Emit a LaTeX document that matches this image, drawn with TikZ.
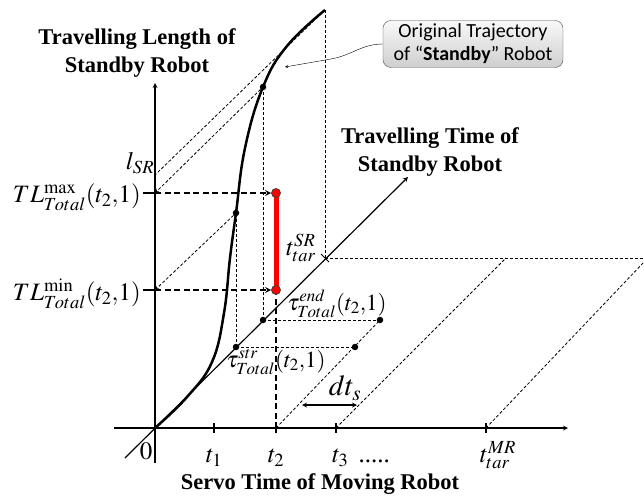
\documentclass[tikz,border=0pt]{standalone}
\usepackage{mathptmx}
\usepackage{fontspec}
\setmainfont{Liberation Serif}
\newfontfamily\calloutfont{Carlito}
\usetikzlibrary{arrows, positioning}
\tikzstyle{axis} = [line width=1.2pt, ->, >=stealth]
\tikzstyle{curve} = [line width=2.5pt]
\tikzstyle{guide} = [line width=0.8pt, dash pattern=on 3pt off 2pt]
\tikzstyle{proj} = [line width=1.6pt, dash pattern=on 6pt off 3.5pt]
\tikzstyle{dot} = [circle, fill=black, inner sep=0pt, minimum size=6.5pt]
\tikzstyle{reddot} = [circle, draw=black!75, line width=0.8pt, fill=red, inner sep=0pt, minimum size=9pt]
\tikzstyle{callout} = [rectangle, rounded corners=8pt, draw=gray!60!black, top color=gray!5, bottom color=gray!38, minimum width=180pt, minimum height=47pt, align=center, font=\calloutfont\fontsize{20}{23}\selectfont]
\tikzstyle{title} = [align=center, font=\bfseries\fontsize{22.5}{28}\selectfont]
\tikzstyle{mathlbl} = [inner sep=1pt, font=\fontsize{25}{28}\selectfont]
\tikzstyle{taulbl} = [inner sep=1pt, font=\fontsize{23}{26}\selectfont]

\begin{document}
\begin{tikzpicture}[x=1pt, y=1pt, >=stealth]
            \useasboundingbox (-155,-71) rectangle (489,428);
            % axes
            \coordinate (O) at (0,0);
            \coordinate (ybot) at (0,-35);
            \coordinate (ytop) at (0,345);
            \coordinate (xleft) at (-41,0);
            \coordinate (xright) at (413,0);
            \coordinate (dbot) at (-30,-30);
            \coordinate (dtop) at (253,251);
            \foreach \x/\n in {59/t1, 121/t2, 181/t3, 331/tmr}
                \coordinate (\n) at (\x,0);
            % key points
            \coordinate (tmax) at (0,235);
            \coordinate (tmin) at (0,138);
            \coordinate (lsrpt) at (0,253);
            \coordinate (tsr) at (170,170);
            \coordinate (ctop) at (170,418);
            \coordinate (redge) at (489,170);
            \coordinate (t3end) at (351,170);
            \coordinate (tmrend) at (489,166);
            \coordinate (dtl) at (147,23);
            \coordinate (dtr) at (202,23);
            \coordinate (origtip) at (130,361);
            \coordinate (origbend) at (176,369);

            \draw [axis] (ybot) -- (ytop);
            \draw [axis] (xleft) -- (xright);
            \draw [axis] (dbot) -- (dtop);
            \foreach \n in {t1, t2, t3, tmr}
                \draw [line width=1.2pt] (\n) ++(0,-5) -- ++(0,10);
            \draw [line width=1pt] (tsr) ++(-4,4) -- ++(8,-8);

            % guide lines
            \draw [guide] (tsr) -- (ctop);
            \draw [guide] (tsr) -- (redge);
            \draw [guide] (t3) -- (t3end);
            \draw [guide] (tmr) -- (tmrend);
            \draw [guide] (81,81) -- (81,215);
            \draw [guide] (108,108) -- (108,341);
            \draw [guide] (81,81) -- (200,81);
            \draw [guide] (108,108) -- (225,108);
            \draw [guide] (t2) -- (225,108);
            \draw [guide] (ctop) -- (lsrpt);

            % trajectory
            \draw [curve] plot [smooth, tension=0.7] coordinates {(0,0) (32,31) (57,66) (69,115) (75,170) (81,215) (90,280) (108,341) (132,382) (170,418)};

            \node (sstr) [dot] at (81,81) {};
            \node (send) [dot] at (108,108) {};
            \node (cstr) [dot] at (81,215) {};
            \node (cend) [dot] at (108,341) {};
            \node (sstr2) [dot] at (200,81) {};
            \node (send2) [dot] at (225,108) {};

            \draw [guide, ->] (cend) -- (tmax);
            \draw [guide, ->] (cstr) -- (tmin);

            % projections of the red segment
            \draw [line width=1.2pt] (tmax) ++(-12,0) -- ++(15,0);
            \draw [line width=1.2pt] (tmin) ++(-12,0) -- ++(15,0);
            \draw [proj] (t2) -- (121,138);
            \draw [red, line width=5pt] (121,235) -- (121,138);
            \node (rtop) [reddot] at (121,235) {};
            \node (rbot) [reddot] at (121,138) {};
            \draw [proj, ->] (tmax) -- (rtop.west);
            \draw [proj, ->] (tmin) -- (rbot.west);
            \draw [line width=1.2pt, <->] (dtl) -- (dtr);

            % labels
            \node (lenlabel) [title] at (-18,375) {Travelling Length of\\Standby Robot};
            \node (timelabel) [title] at (275,276) {Travelling Time of\\Standby Robot};
            \node (servolabel) [title] at (165,-56) {Servo Time of Moving Robot};
            \node (zero) [mathlbl] at (-9,-23) {$0$};
            \node (lt1) [mathlbl] at (59,-30) {$t_1$};
            \node (lt2) [mathlbl] at (121,-30) {$t_2$};
            \node (lt3) [mathlbl, anchor=west] at (176,-30) {$t_3$ \,.....};
            \node (ltmr) [mathlbl] at (343,-27) {$t_{tar}^{MR}$};
            \node (lsr) [mathlbl] at (-15,265) {$l_{SR}$};
            \node (tlmax) [mathlbl, anchor=east] at (-13,231) {$TL^{\mathrm{max}}_{Total}(t_2{,}1)$};
            \node (tlmin) [mathlbl, anchor=east] at (-13,134) {$TL^{\mathrm{min}}_{Total}(t_2{,}1)$};
            \node (tsrlabel) [mathlbl] at (146,180) {$t_{tar}^{SR}$};
            \node (tendlabel) [taulbl] at (182,124) {$\tau^{end}_{Total}(t_2{,}1)$};
            \node (tstrlabel) [taulbl] at (121,66) {$\tau^{str}_{Total}(t_2{,}1)$};
            \node (dtlabel) [mathlbl, font=\fontsize{29}{30}\selectfont] at (190,40) {$dt_s$};

            % callout
            \node (orig) [callout] at (318,384) {Original Trajectory\\of “\textbf{Standby}” Robot};
            \draw [->] (orig.west) to [out=180, in=10] (origbend) -- (origtip);
        \end{tikzpicture}
\end{document}
